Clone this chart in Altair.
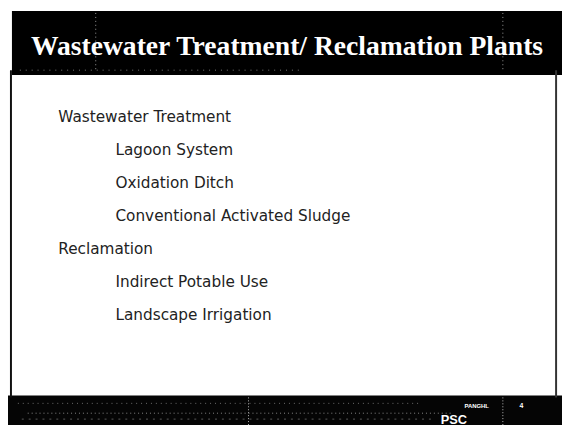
import altair as alt
import pandas as pd

# ---- content ----
title_text = ["Wastewater Treatment/ Reclamation Plants"]
items = [
    "Wastewater Treatment",
    "Lagoon System",
    "Oxidation Ditch",
    "Conventional Activated Sludge",
    "Reclamation",
    "Indirect Potable Use",
    "Landscape Irrigation",
]
levels = [0, 1, 1, 1, 0, 1, 1]
footer_logo = ["PSC"]
footer_code = ["PANGHL"]
footer_page = ["4"]

W, H = 562, 423

body = pd.DataFrame({"item": items, "level": levels, "idx": list(range(len(items)))})
one = pd.DataFrame({"k": [0]})


def rect(x, x2, y, y2, color):
    return alt.Chart(one).mark_rect(color=color).encode(
        x=alt.value(x), x2=alt.value(x2), y=alt.value(y), y2=alt.value(y2)
    )


def vrule(x, y, y2, color, dash):
    return alt.Chart(one).mark_rule(color=color, strokeDash=dash, strokeWidth=1).encode(
        x=alt.value(x), y=alt.value(y), y2=alt.value(y2)
    )


def hrule(x, x2, y, color, dash):
    return alt.Chart(one).mark_rule(color=color, strokeDash=dash, strokeWidth=1).encode(
        x=alt.value(x), x2=alt.value(x2), y=alt.value(y)
    )


title_bar = rect(4, W, 0, 65, "#000000")
footer_bar = rect(0, W, 390, 420, "#050505")
left_border = rect(2, 4, 60, 392, "#111111")
right_border = rect(555, 557, 60, 392, "#333333")

dots = [
    vrule(89, 2, 62, "#9a9a9a", [1, 3]),
    vrule(502, 2, 62, "#9a9a9a", [1, 3]),
    vrule(244, 392, 420, "#bdbdbd", [1, 2]),
    vrule(502, 392, 420, "#bdbdbd", [1, 2]),
    hrule(20, 450, 408, "#8a8a8a", [1, 3]),
    hrule(10, 420, 398, "#6f6f6f", [1, 4]),
    hrule(14, 430, 414, "#5a5a5a", [2, 5]),
    hrule(12, 300, 60, "#7a7a7a", [1, 5]),
]

title = alt.Chart(pd.DataFrame({"t": title_text})).mark_text(
    font="Liberation Serif", fontSize=28, fontWeight="bold", color="#ffffff",
    align="center", baseline="alphabetic"
).encode(text="t:N", x=alt.value(283), y=alt.value(45))

body_text = alt.Chart(body).mark_text(
    font="DejaVu Sans", fontSize=15.5, color="#222222",
    align="left", baseline="alphabetic"
).encode(
    text="item:N",
    x=alt.X("level:Q", scale=alt.Scale(domain=[0, 1], range=[51, 109]), axis=None),
    y=alt.Y("idx:Q", scale=alt.Scale(domain=[0, 6], range=[113, 313]), axis=None),
)

logo = alt.Chart(pd.DataFrame({"t": footer_logo})).mark_text(
    font="Liberation Sans", fontSize=13, fontWeight="bold", color="#ffffff",
    align="left", baseline="alphabetic"
).encode(text="t:N", x=alt.value(439), y=alt.value(419))

code = alt.Chart(pd.DataFrame({"t": footer_code})).mark_text(
    font="Liberation Sans", fontSize=6, fontWeight="bold", color="#ffffff",
    align="left", baseline="alphabetic"
).encode(text="t:N", x=alt.value(463), y=alt.value(403))

page = alt.Chart(pd.DataFrame({"t": footer_page})).mark_text(
    font="Liberation Sans", fontSize=7, fontWeight="bold", color="#ffffff",
    align="left", baseline="alphabetic"
).encode(text="t:N", x=alt.value(519), y=alt.value(403))

chart = alt.layer(
    title_bar, footer_bar, left_border, right_border, *dots,
    title, body_text, logo, code, page
).properties(
    width=W, height=H, padding=0, autosize=alt.AutoSizeParams(type="none"),
    background="#ffffff"
).configure_view(stroke=None)

chart.save("out.html", embed_options={"renderer": "svg", "actions": False})
